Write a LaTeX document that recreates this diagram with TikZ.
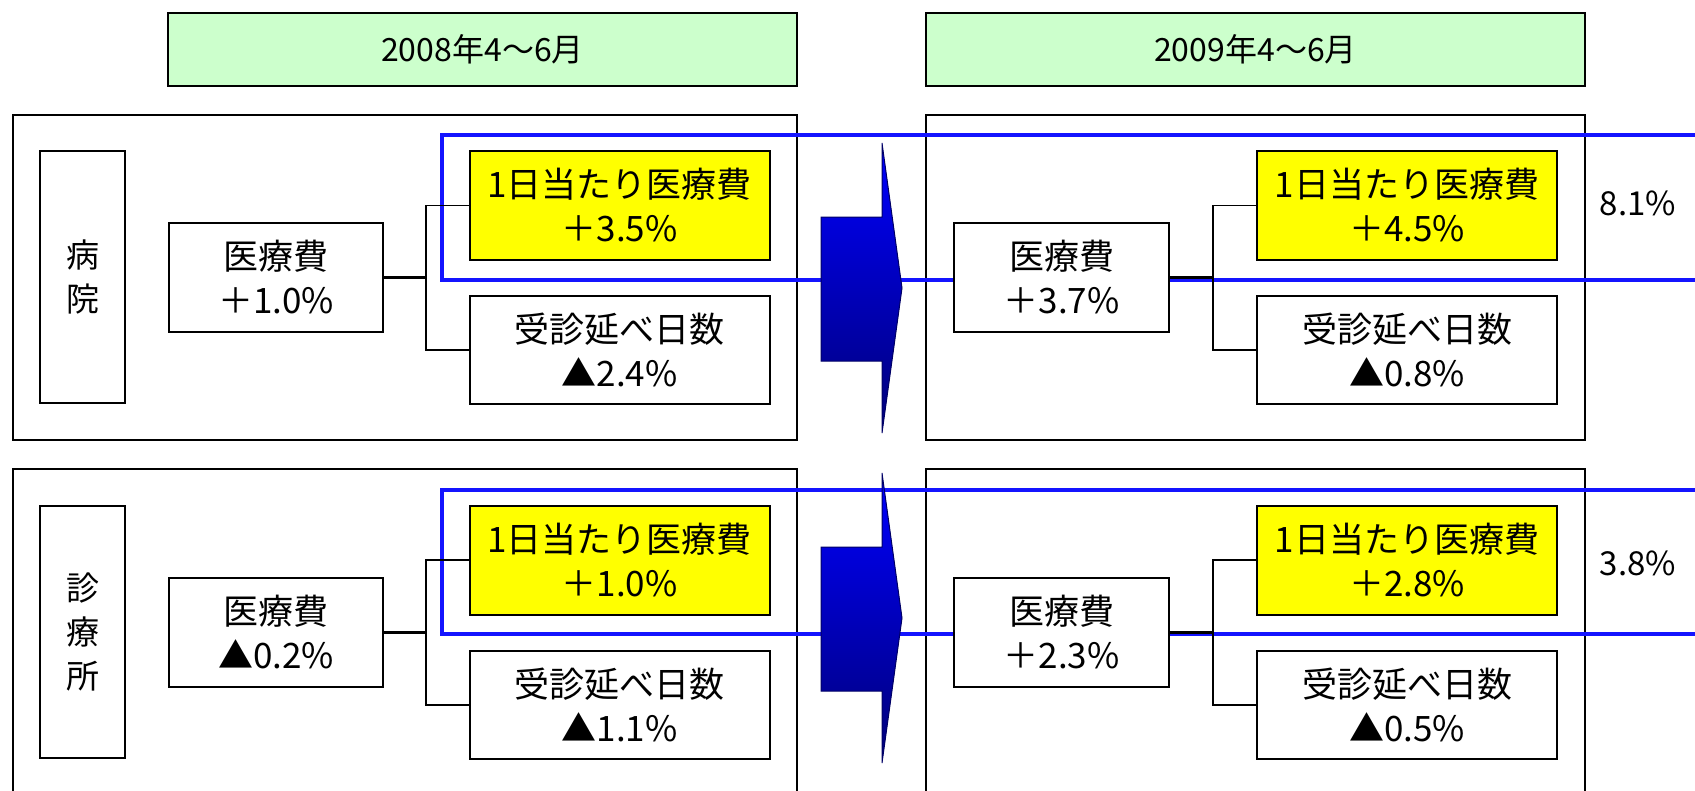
\documentclass[tikz,border=0pt]{standalone}
\usepackage{fontspec}
\setmainfont{Noto Sans CJK JP}
\definecolor{hdrgreen}{RGB}{204,255,204}
\definecolor{hiyellow}{RGB}{255,255,0}
\definecolor{hiblue}{RGB}{20,20,255}
\definecolor{arrtop}{RGB}{0,0,255}
\definecolor{arrbot}{RGB}{0,0,120}
\begin{document}
\begin{tikzpicture}[x=1pt,y=-1pt,
  outerbox/.style={draw=black, line width=2pt, rectangle, inner sep=0pt},
  hdrbox/.style={draw=black, line width=2pt, fill=hdrgreen, rectangle, inner sep=0pt,
     minimum height=73pt, font=\fontsize{32}{38}\selectfont},
  sidebox/.style={draw=black, line width=2pt, fill=white, rectangle, inner sep=0pt,
     minimum width=85pt, minimum height=252pt, align=center, font=\fontsize{33}{44}\selectfont},
  valbox/.style={draw=black, line width=2pt, fill=white, rectangle, inner sep=0pt,
     minimum height=109pt, align=center, font=\fontsize{35}{44}\selectfont},
  medbox/.style={valbox, minimum width=214pt},
  subbox/.style={valbox, minimum width=300pt},
  yelbox/.style={subbox, fill=hiyellow},
  bluefr/.style={draw=hiblue, line width=4.5pt},
  stem/.style={draw=black, line width=2.5pt},
  branch/.style={draw=black, line width=1.5pt},
  bigarrow/.style={top color=arrtop, bottom color=arrbot},
  arrline/.style={draw=black!60!blue, line width=1pt},
  pct/.style={font=\fontsize{33}{38}\selectfont, inner sep=0pt}
]
\useasboundingbox (0,0) rectangle (1695,790);
\clip (0,0) rectangle (1695,790);

% headers
\node[hdrbox, minimum width=629pt] (h1) at (482.5,49.5) {2008年4～6月};
\node[hdrbox, minimum width=659pt] (h2) at (1255.5,49.5) {2009年4～6月};

% outer panels
\node[outerbox, minimum width=784pt, minimum height=325pt] (o11) at (405,277.5) {};
\node[outerbox, minimum width=659pt, minimum height=325pt] (o12) at (1255.5,277.5) {};
\node[outerbox, minimum width=784pt, minimum height=380pt] (o21) at (405,659) {};
\node[outerbox, minimum width=659pt, minimum height=380pt] (o22) at (1255.5,659) {};

% blue frames
\draw[bluefr] (1720,135) -- (442,135) -- (442,280) -- (1720,280);
\draw[bluefr] (1720,490) -- (442,490) -- (442,634) -- (1720,634);

% junction points
\coordinate (j11) at (426,277.5);
\coordinate (j12) at (1213,277.5);
\coordinate (j21) at (426,632.5);
\coordinate (j22) at (1213,632.5);

% ---- row 1 ----
\node[sidebox] (s1) at (82.5,277) {病\\院};
\node[medbox] (m11) at (276,277.5) {医療費\\＋1.0\%};
\node[yelbox] (y11) at (619.5,205.5) {1日当たり医療費\\＋3.5\%};
\node[subbox, minimum height=108pt] (d11) at (619.5,350) {受診延べ日数\\▲2.4\%};

\node[medbox, minimum width=215pt] (m12) at (1061.5,277.5) {医療費\\＋3.7\%};
\node[yelbox] (y12) at (1407,205.5) {1日当たり医療費\\＋4.5\%};
\node[subbox, minimum height=108pt] (d12) at (1407,350) {受診延べ日数\\▲0.8\%};

% ---- row 2 ----
\node[sidebox] (s2) at (82.5,632) {診\\療\\所};
\node[medbox] (m21) at (276,632.5) {医療費\\▲0.2\%};
\node[yelbox] (y21) at (619.5,560) {1日当たり医療費\\＋1.0\%};
\node[subbox, minimum height=108pt] (d21) at (619.5,705) {受診延べ日数\\▲1.1\%};

\node[medbox, minimum width=215pt] (m22) at (1061.5,632.5) {医療費\\＋2.3\%};
\node[yelbox] (y22) at (1407,560) {1日当たり医療費\\＋2.8\%};
\node[subbox, minimum height=108pt] (d22) at (1407,705) {受診延べ日数\\▲0.5\%};

% connectors
\draw[stem] (m11.east) -- (j11);
\draw[branch] (y11.west) -| (j11) |- (d11.west);
\draw[stem] (m12.east) -- (j12);
\draw[branch] (y12.west) -| (j12) |- (d12.west);
\draw[stem] (m21.east) -- (j21);
\draw[branch] (y21.west) -| (j21) |- (d21.west);
\draw[stem] (m22.east) -- (j22);
\draw[branch] (y22.west) -| (j22) |- (d22.west);

% big arrows
\shade[bigarrow] (821,217) -- (882,217) -- (882,143) -- (902,288) -- (882,433) -- (882,361) -- (821,361) -- cycle;
\draw[arrline] (821,217) -- (882,217) -- (882,143) -- (902,288) -- (882,433) -- (882,361) -- (821,361) -- cycle;
\shade[bigarrow] (821,547) -- (882,547) -- (882,473) -- (902,618) -- (882,763) -- (882,691) -- (821,691) -- cycle;
\draw[arrline] (821,547) -- (882,547) -- (882,473) -- (902,618) -- (882,763) -- (882,691) -- (821,691) -- cycle;

% percentages
\node[pct] (p1) at (1638,203) {8.1\%};
\node[pct] (p2) at (1638,563) {3.8\%};
\end{tikzpicture}
\end{document}
